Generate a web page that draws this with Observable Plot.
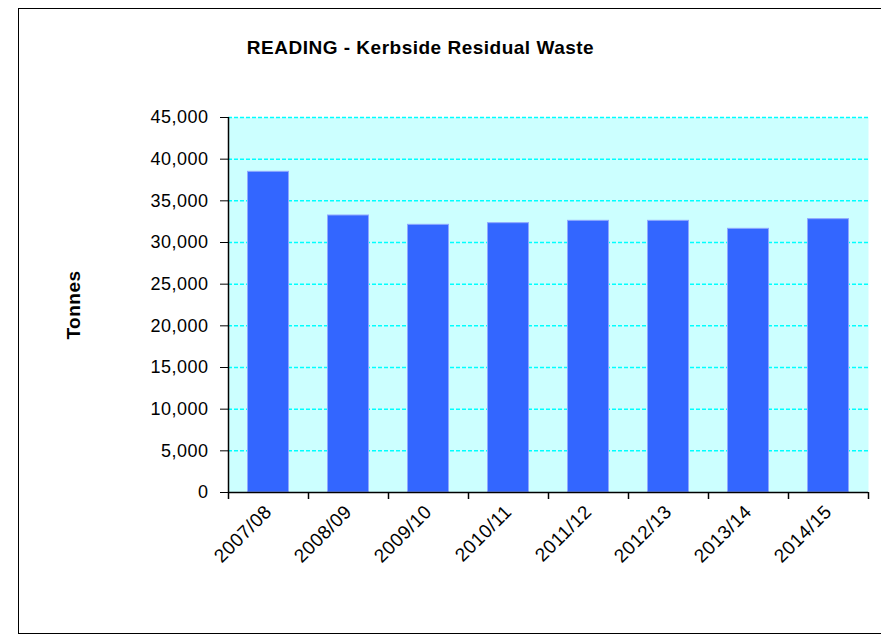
<!DOCTYPE html>
<html>
<head>
<meta charset="utf-8">
<script src="https://cdn.jsdelivr.net/npm/d3@7"></script>
<script src="https://cdn.jsdelivr.net/npm/@observablehq/plot@0.6"></script>
<style>
  html, body { margin: 0; padding: 0; background: #ffffff; }
  #wrap { position: relative; width: 881px; height: 638px; }
  #border { position: absolute; left: 18px; top: 8px; width: 870px; height: 626px; border: 1px solid #000; box-sizing: border-box; pointer-events: none; }
  #chart svg { display: block; }
  #chart svg text { letter-spacing: 0.5px; }
</style>
</head>
<body>
<div id="wrap">
  <div id="chart"></div>
  <div id="border"></div>
</div>
<script>
const categories = ["2007/08", "2008/09", "2009/10", "2010/11", "2011/12", "2012/13", "2013/14", "2014/15"];
const tonnes = [38480, 33240, 32120, 32320, 32600, 32600, 31640, 32800];
const yTicks = [0, 5000, 10000, 15000, 20000, 25000, 30000, 35000, 40000, 45000];
const title = "READING - Kerbside Residual Waste";
const yLabel = "Tonnes";

const data = categories.map((c, i) => ({year: c, tonnes: tonnes[i]}));

const W = 881, H = 638;
const mL = 228, mR = 13, mT = 117, mB = 146;
const bw = (W - mL - mR) / categories.length;

const chart = Plot.plot({
  width: W,
  height: H,
  marginLeft: mL,
  marginRight: mR,
  marginTop: mT,
  marginBottom: mB,
  style: {fontFamily: "Liberation Sans, Arial, sans-serif", fontSize: "18px", color: "#000", background: "transparent", overflow: "visible"},
  x: {domain: categories, padding: 0, label: null},
  y: {domain: [0, 45000], label: null},
  marks: [
    Plot.frame({fill: "#CCFFFF", stroke: null}),
    Plot.ruleY(yTicks.filter(d => d > 0), {stroke: "#00FFFF", strokeWidth: 1.5, strokeDasharray: "4,2"}),
    Plot.barY(data, {x: "year", y: "tonnes", fill: "#3366FF", stroke: "#8fa8ff", strokeWidth: 1, insetLeft: 19.5, insetRight: 19.5}),
    Plot.ruleY([0], {stroke: "#000", strokeWidth: 1.5}),
    Plot.ruleX([categories[0]], {dx: -bw / 2, stroke: "#000", strokeWidth: 1.5}),
    Plot.axisY({ticks: yTicks, tickFormat: d3.format(","), tickSize: 8, tickPadding: 12, label: null, fontSize: 18}),
    Plot.axisX({tickSize: 0, tickRotate: -45, tickPadding: 16, label: null, fontSize: 19}),
    Plot.ruleX(categories, {x: d => d, dx: -bw / 2, y1: 0, y2: 0, insetBottom: -7, stroke: "#000", strokeWidth: 1.5}),
    Plot.ruleX([categories[categories.length - 1]], {x: d => d, dx: bw / 2, y1: 0, y2: 0, insetBottom: -7, stroke: "#000", strokeWidth: 1.5}),
    Plot.text([title], {text: d => d, frameAnchor: "top-left", dx: 192, dy: -70, textAnchor: "middle", lineAnchor: "middle", fontWeight: "bold", fontSize: 19}),
    Plot.text([yLabel], {text: d => d, frameAnchor: "left", dx: -155, rotate: -90, textAnchor: "middle", lineAnchor: "middle", fontWeight: "bold", fontSize: 19})
  ]
});

document.getElementById("chart").appendChild(chart);
</script>
</body>
</html>
